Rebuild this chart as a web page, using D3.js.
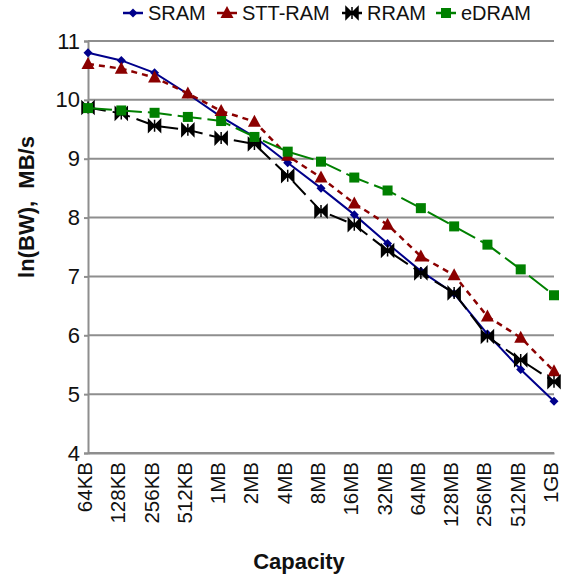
<!DOCTYPE html>
<html><head><meta charset="utf-8">
<script src="https://cdn.jsdelivr.net/npm/d3@7/dist/d3.min.js"></script>
<style>body{margin:0;background:#fff}svg{display:block;font-family:"Liberation Sans",Arial,sans-serif}</style>
</head><body><svg id="c" width="562" height="578"></svg>
<script>
const categories = ["64KB","128KB","256KB","512KB","1MB","2MB","4MB","8MB","16MB","32MB","64MB","128MB","256MB","512MB","1GB"];
const sram   = [10.80,10.67,10.46,10.10,9.71,9.37,8.93,8.50,8.05,7.56,7.09,6.71,6.02,5.42,4.88];
const sttram = [10.61,10.53,10.38,10.11,9.81,9.63,9.05,8.68,8.24,7.88,7.34,7.02,6.32,5.96,5.39];
const rram   = [9.87,9.77,9.56,9.49,9.35,9.25,8.71,8.11,7.88,7.44,7.06,6.72,5.98,5.58,5.21];
const edram  = [9.86,9.82,9.78,9.71,9.64,9.37,9.12,8.95,8.68,8.46,8.16,7.85,7.54,7.12,6.68];
const yTicks = [4,5,6,7,8,9,10,11];
const seriesNames = ["SRAM","STT-RAM","RRAM","eDRAM"];

const series = [
  {name:seriesNames[0], values:sram,   color:"#00008b", dash:null,   width:2,   marker:"diamond"},
  {name:seriesNames[1], values:sttram, color:"#8b0000", dash:"6,5",  width:2.5, marker:"triangle"},
  {name:seriesNames[2], values:rram,   color:"#000000", dash:"18,7", width:2,   marker:"bowtie"},
  {name:seriesNames[3], values:edram,  color:"#008000", dash:"24,6", width:2,   marker:"square"}
];

const svg = d3.select("#c");
const x = d3.scalePoint().domain(categories).range([88,554]);
const y = d3.scaleLinear().domain([4,11]).range([453,41]);

// gridlines
svg.append("g").selectAll("line").data(yTicks).join("line")
  .attr("x1",88).attr("x2",554).attr("y1",d=>y(d)).attr("y2",d=>y(d))
  .attr("stroke","#8e8e8e").attr("stroke-width",2);

// y axis
const yAxis = svg.append("g").attr("transform","translate(88,0)")
  .call(d3.axisLeft(y).tickValues(yTicks).tickFormat(d3.format("d")).tickSize(4).tickPadding(4));
yAxis.select(".domain").attr("stroke","#8e8e8e").attr("stroke-width",2);
yAxis.selectAll(".tick line").attr("stroke","#8e8e8e").attr("stroke-width",2);
yAxis.selectAll("text").attr("font-size",22).attr("fill","#111").attr("font-family","Liberation Sans, Arial, sans-serif");

// x axis
const xAxis = svg.append("g").attr("transform","translate(0,453)")
  .call(d3.axisBottom(x).tickSize(0).tickPadding(0));
xAxis.select(".domain").attr("stroke","#8e8e8e").attr("stroke-width",2);
xAxis.selectAll("text")
  .attr("font-size",20.5).attr("fill","#111").attr("font-family","Liberation Sans, Arial, sans-serif")
  .attr("transform","rotate(-90)").attr("text-anchor","end")
  .attr("x",-9).attr("y",0).attr("dy","0.17em");

// titles
svg.append("text").attr("x",299).attr("y",569).attr("text-anchor","middle")
  .attr("font-size",22).attr("font-weight","bold").attr("fill","#111").text("Capacity");
svg.append("text").attr("transform","translate(34,207) rotate(-90)").attr("text-anchor","middle")
  .attr("font-size",22).attr("font-weight","bold").attr("fill","#111")
  .attr("xml:space","preserve").style("white-space","pre").text("ln(BW),  MB/s");

function marker(sel, type, color){
  if(type==="diamond") sel.append("path").attr("d","M0,-4.5L4.5,0L0,4.5L-4.5,0Z").attr("fill",color);
  else if(type==="triangle") sel.append("path").attr("d","M0,-7L6.5,5L-6.5,5Z").attr("fill",color);
  else if(type==="square") sel.append("rect").attr("x",-5).attr("y",-5).attr("width",10).attr("height",10).attr("fill",color);
  else if(type==="bowtie") sel.append("path").attr("d","M-6,-6L0,0L-6,6ZM6,-6L0,0L6,6ZM0,-6L0,6")
      .attr("fill",color).attr("stroke",color).attr("stroke-width",1.5).attr("stroke-linejoin","miter");
}

const line = d3.line().x((d,i)=>x(categories[i])).y(d=>y(d));
series.forEach(s=>{
  const g = svg.append("g");
  g.append("path").attr("d",line(s.values)).attr("fill","none")
    .attr("stroke",s.color).attr("stroke-width",s.width)
    .attr("stroke-dasharray",s.dash);
  s.values.forEach((v,i)=>{
    const m = g.append("g").attr("transform",`translate(${x(categories[i])},${y(v)})`);
    marker(m,s.marker,s.color);
  });
});

// legend
const legX = [123,217,342,436];
series.forEach((s,i)=>{
  const g = svg.append("g").attr("transform",`translate(${legX[i]},13)`);
  g.append("line").attr("x1",0).attr("x2",20).attr("stroke",s.color).attr("stroke-width",2.5);
  const m = g.append("g").attr("transform","translate(10,0)");
  marker(m,s.marker,s.color);
  g.append("text").attr("x",25).attr("y",7).attr("font-size",20).attr("fill","#111").text(s.name);
});
</script></body></html>
